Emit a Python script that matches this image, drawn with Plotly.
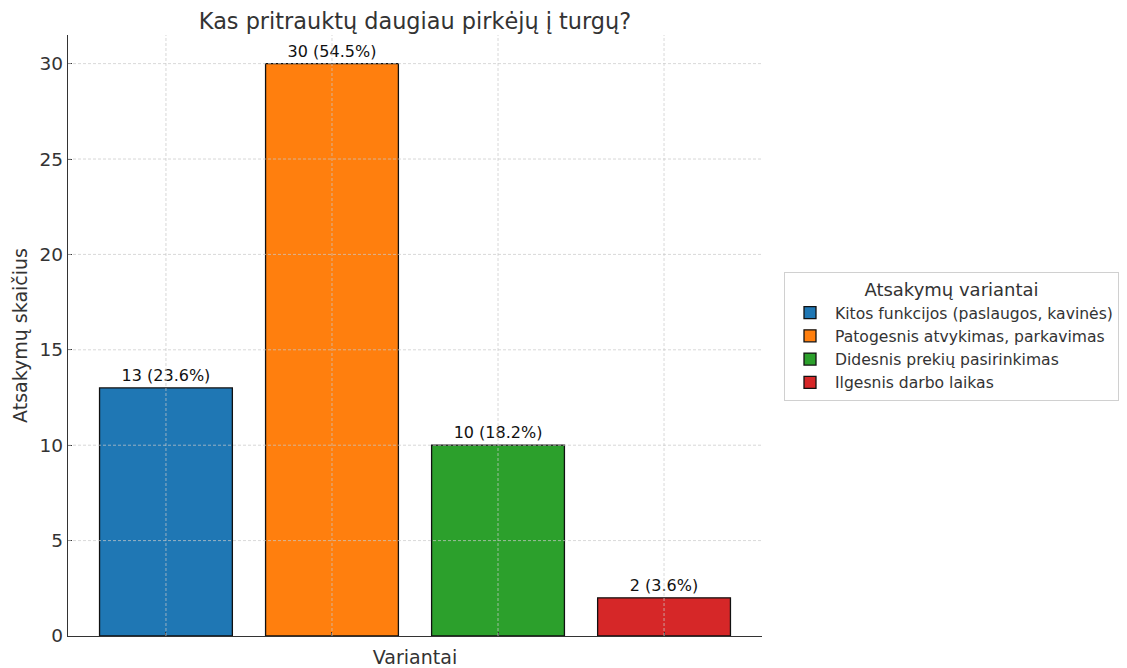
import plotly.graph_objects as go

title = "Kas pritrauktų daugiau pirkėjų į turgų?"
categories = [
    "Kitos funkcijos (paslaugos, kavinės)",
    "Patogesnis atvykimas, parkavimas",
    "Didesnis prekių pasirinkimas",
    "Ilgesnis darbo laikas",
]
counts = [13, 30, 10, 2]
colors = ["#1f77b4", "#ff7f0e", "#2ca02c", "#d62728"]
y_ticks = [0, 5, 10, 15, 20, 25, 30]
x_ticks = [0, 1, 2, 3]

total = sum(counts)
font_family = "DejaVu Sans, sans-serif"
text_col = "#333333"

fig = go.Figure()
for i, (cat, val, col) in enumerate(zip(categories, counts, colors)):
    fig.add_trace(go.Bar(
        x=[i], y=[val], name=cat, width=0.8,
        marker=dict(color=col, line=dict(color="#111111", width=1.3)),
        text=[f"{val} ({val / total * 100:.1f}%)"],
        textposition="outside",
        textfont=dict(family=font_family, size=16, color="#111111"),
        cliponaxis=False,
    ))

# dashed grid drawn above bars (as in the reference)
grid_style = dict(color="rgba(200,200,200,0.8)", width=0.9, dash="3px,2px")
for yt in y_ticks:
    if yt == 0:
        continue
    fig.add_shape(type="line", xref="paper", yref="y", x0=0, x1=1, y0=yt, y1=yt,
                  line=grid_style, layer="above")
for xt in x_ticks:
    fig.add_shape(type="line", xref="x", yref="paper", x0=xt, x1=xt, y0=0, y1=1,
                  line=grid_style, layer="above")

# page body has an 8px margin; figure is sized/offset to compensate
W, H = 1119, 660
fig.update_layout(
    width=W, height=H,
    margin=dict(l=60, r=W - 754, t=27, b=H - 628, autoexpand=False),
    paper_bgcolor="white", plot_bgcolor="white",
    font=dict(family=font_family, color=text_col),
    title=dict(text=title, x=(60 + 754) / 2 / W, xanchor="center",
               y=1 - 13 / H, yanchor="middle",
               font=dict(size=22.4, color=text_col)),
    showlegend=True,
    legend=dict(
        title=dict(text="Atsakymų variantai", side="top center",
                   font=dict(size=18, color=text_col)),
        font=dict(size=15.6, color=text_col),
        xref="container", yref="container",
        x=776 / W, xanchor="left", y=1 - 328 / H, yanchor="middle",
        bordercolor="#d0d0d0", borderwidth=1, bgcolor="white",
        itemwidth=40,
    ),
    bargap=0.2,
)
fig.update_xaxes(
    range=[-0.59, 3.59], tickvals=x_ticks, showticklabels=False,
    ticks="inside", ticklen=4, tickcolor=text_col,
    showgrid=False, zeroline=False, automargin=False,
    showline=True, linecolor=text_col, linewidth=1.3,
    title=dict(text="Variantai", font=dict(size=19, color=text_col), standoff=14),
)
fig.update_yaxes(
    range=[0, 31.5], tickvals=y_ticks,
    ticks="inside", ticklen=4, tickcolor=text_col,
    tickfont=dict(size=18.5, color=text_col),
    showgrid=False, zeroline=False, automargin=False,
    showline=True, linecolor=text_col, linewidth=1.3,
    title=dict(text="Atsakymų skaičius", font=dict(size=19, color=text_col), standoff=6),
)

fig.write_html("out.html")
